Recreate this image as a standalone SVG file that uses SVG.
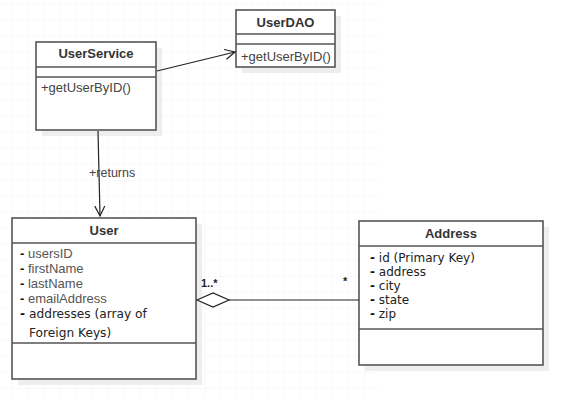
<svg xmlns="http://www.w3.org/2000/svg" width="578" height="416" viewBox="0 0 578 416">
<defs>
<pattern id="grid" width="16" height="16" patternUnits="userSpaceOnUse" x="13" y="5">
<path d="M16 0 V16 M0 16 H16" fill="none" stroke="#f3f3f3" stroke-width="1"/>
</pattern>
<marker id="open" markerWidth="14" markerHeight="14" refX="11" refY="6" orient="auto" markerUnits="userSpaceOnUse">
<path d="M1 1 L11 6 L1 11" fill="none" stroke="#222" stroke-width="1.2"/>
</marker>
</defs>
<style>
.box{fill:#fff;stroke:#555;stroke-width:1.6}
.sh{fill:#eeeeee}
.sep{stroke:#555;stroke-width:1.6}
.title{font-family:"Liberation Sans",Arial,sans-serif;font-size:13px;font-weight:bold;fill:#333;text-anchor:middle}
.op{font-family:"Liberation Sans",Arial,sans-serif;font-size:13px;fill:#444}
.at{font-family:"Liberation Sans",Arial,sans-serif;font-size:13px;fill:#555}
.at2{font-family:"DejaVu Sans",Verdana,sans-serif;font-size:12.2px;fill:#222}
.at3{font-family:"DejaVu Sans",Verdana,sans-serif;font-size:12px;fill:#222}
.lbl{font-family:"Liberation Sans",Arial,sans-serif;font-size:12.5px;fill:#444}
.mul{font-family:"Liberation Sans",Arial,sans-serif;font-size:11px;font-weight:bold;fill:#222}
.conn{stroke:#222;stroke-width:1.2;fill:none}
</style>
<rect width="578" height="416" fill="#fff"/>
<rect x="0" y="0" width="380" height="400" fill="url(#grid)"/>

<g id="UserService">
<rect class="sh" x="42" y="48" width="120" height="88"/>
<rect class="box" x="36" y="42" width="120" height="88"/>
<line class="sep" x1="36" y1="67" x2="156" y2="67"/>
<line class="sep" x1="36" y1="77" x2="156" y2="77"/>
<text class="title" x="96" y="58">UserService</text>
<text class="op" x="41" y="92">+getUserByID()</text>
</g>

<g id="UserDAO">
<rect class="sh" x="242" y="16" width="99" height="57"/>
<rect class="box" x="236" y="10" width="99" height="57"/>
<line class="sep" x1="236" y1="34" x2="335" y2="34"/>
<line class="sep" x1="236" y1="44" x2="335" y2="44"/>
<text class="title" x="285.5" y="27">UserDAO</text>
<text class="op" x="241" y="61">+getUserByID()</text>
</g>

<g id="User">
<rect class="sh" x="18" y="224" width="184" height="161"/>
<rect class="box" x="12" y="218" width="184" height="161"/>
<line class="sep" x1="12" y1="243" x2="196" y2="243"/>
<line class="sep" x1="12" y1="343" x2="196" y2="343"/>
<text class="title" x="104" y="235">User</text>
<text class="at" x="20" y="258"><tspan font-weight="bold" fill="#111">-</tspan> usersID</text>
<text class="at" x="20" y="273"><tspan font-weight="bold" fill="#111">-</tspan> firstName</text>
<text class="at" x="20" y="288"><tspan font-weight="bold" fill="#111">-</tspan> lastName</text>
<text class="at" x="20" y="303"><tspan font-weight="bold" fill="#111">-</tspan> emailAddress</text>
<text class="at2" x="20" y="318"><tspan font-weight="bold" fill="#111">-</tspan> addresses (array of</text>
<text class="at2" x="29" y="337">Foreign Keys)</text>
</g>

<g id="Address">
<rect class="sh" x="365" y="227" width="184" height="144"/>
<rect class="box" x="359" y="221" width="184" height="144"/>
<line class="sep" x1="359" y1="246" x2="543" y2="246"/>
<line class="sep" x1="359" y1="329" x2="543" y2="329"/>
<text class="title" x="451" y="238">Address</text>
<text class="at3" x="370" y="262"><tspan font-weight="bold" fill="#111">-</tspan> id (Primary Key)</text>
<text class="at3" x="370" y="276"><tspan font-weight="bold" fill="#111">-</tspan> address</text>
<text class="at3" x="370" y="290"><tspan font-weight="bold" fill="#111">-</tspan> city</text>
<text class="at3" x="370" y="304"><tspan font-weight="bold" fill="#111">-</tspan> state</text>
<text class="at3" x="370" y="318"><tspan font-weight="bold" fill="#111">-</tspan> zip</text>
</g>

<g id="connectors">
<line class="conn" x1="157" y1="71" x2="235" y2="52" marker-end="url(#open)"/>
<line class="conn" x1="98" y1="131" x2="100" y2="216" marker-end="url(#open)"/>
<text class="lbl" x="89" y="177">+returns</text>
<path d="M197 300 L213 293 L229 300 L213 307 Z" fill="#fff" stroke="#222" stroke-width="1.2"/>
<line class="conn" x1="229" y1="300" x2="359" y2="300"/>
<text class="mul" x="201" y="287">1..*</text>
<text class="mul" x="343" y="285">*</text>
</g>
</svg>
